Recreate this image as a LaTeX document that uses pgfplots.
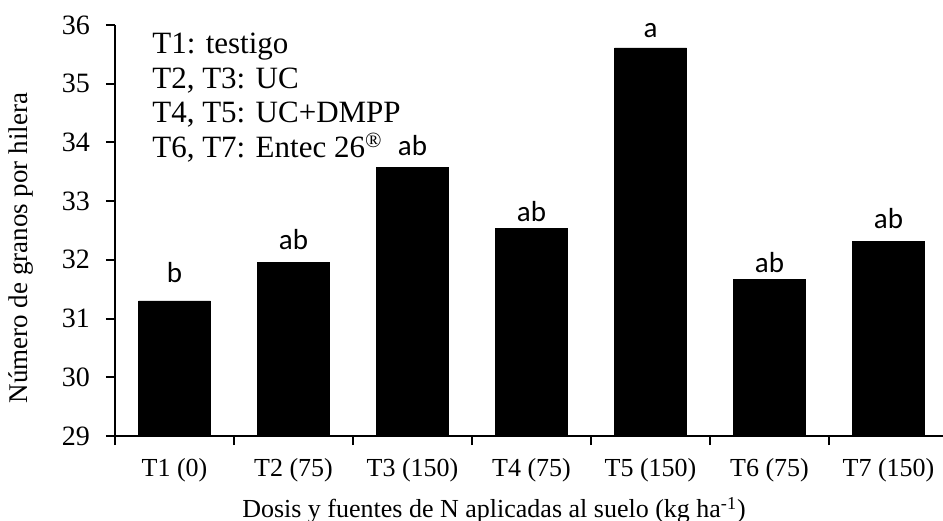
\documentclass[border=0pt]{standalone}
\usepackage{pgfplots}
\pgfplotsset{compat=1.18}
\usepackage{pgfplotstable}
\usepackage{fontspec}
\setmainfont{Liberation Serif}
\newfontfamily\calib{Carlito}

\pgfplotstableread{
x y ly lab
1 31.30 31.62 b
2 31.95 32.17 ab
3 33.57 33.77 ab
4 32.53 32.66 ab
5 35.61 35.79 a
6 31.67 31.78 ab
7 32.31 32.54 ab
}\data

\begin{document}
\begin{tikzpicture}
\begin{axis}[name=ax, width=416.5bp, height=205.5bp, scale only axis,
  xmin=0.5, xmax=7.5, ymin=29, ymax=36,
  axis lines*=left,
  axis line style={line width=1bp},
  ytick={29,...,36},
  xtick={0.5,1.5,...,7.5},
  x tick label as interval,
  xticklabels={T1 (0), T2 (75), T3 (150), T4 (75), T5 (150), T6 (75), T7 (150)},
  tick align=outside,
  major tick length=4.5bp,
  every tick/.style={black, line width=1bp},
  /pgf/number format/assume math mode=true,
  yticklabel style={font=\fontsize{14bp}{16bp}\selectfont, xshift=-4.5bp},
  xticklabel style={font=\fontsize{13bp}{15bp}\selectfont, yshift=-3bp},
  xlabel={Dosis y fuentes de N aplicadas al suelo (kg ha\textsuperscript{-1})},
  ylabel={Número de granos por hilera},
  xlabel style={font=\fontsize{13bp}{15bp}\selectfont, at={(ticklabel cs:0.455)}, anchor=north, yshift=-1bp},
  ylabel style={font=\fontsize{13.5bp}{15bp}\selectfont, at={(ticklabel cs:0.457)}, anchor=south, yshift=7.5bp},
  clip=true,
]
\addplot[ybar, fill=black, draw=black, bar width=0.605] table[x=x, y=y] {\data};
\addplot[draw=none, mark=none, nodes near coords, point meta=explicit symbolic,
  every node near coord/.append style={anchor=base, inner sep=0pt, font=\calib\fontsize{14.5bp}{16bp}\selectfont}]
  table[x=x, y=ly, meta=lab] {\data};
\node[anchor=north west, inner sep=0pt, align=left, font=\fontsize{15.5bp}{17.25bp}\selectfont]
  at (rel axis cs:0.0444,0.9805) {T1: testigo\\T2, T3: UC\\T4, T5: UC+DMPP\\T6, T7: Entec 26\textsuperscript{®}};
\end{axis}
\pgfresetboundingbox
\useasboundingbox ([shift={(-57.5bp,-42.5bp)}]ax.south west) rectangle ([shift={(414bp,218bp)}]ax.south west);
\end{tikzpicture}
\end{document}
